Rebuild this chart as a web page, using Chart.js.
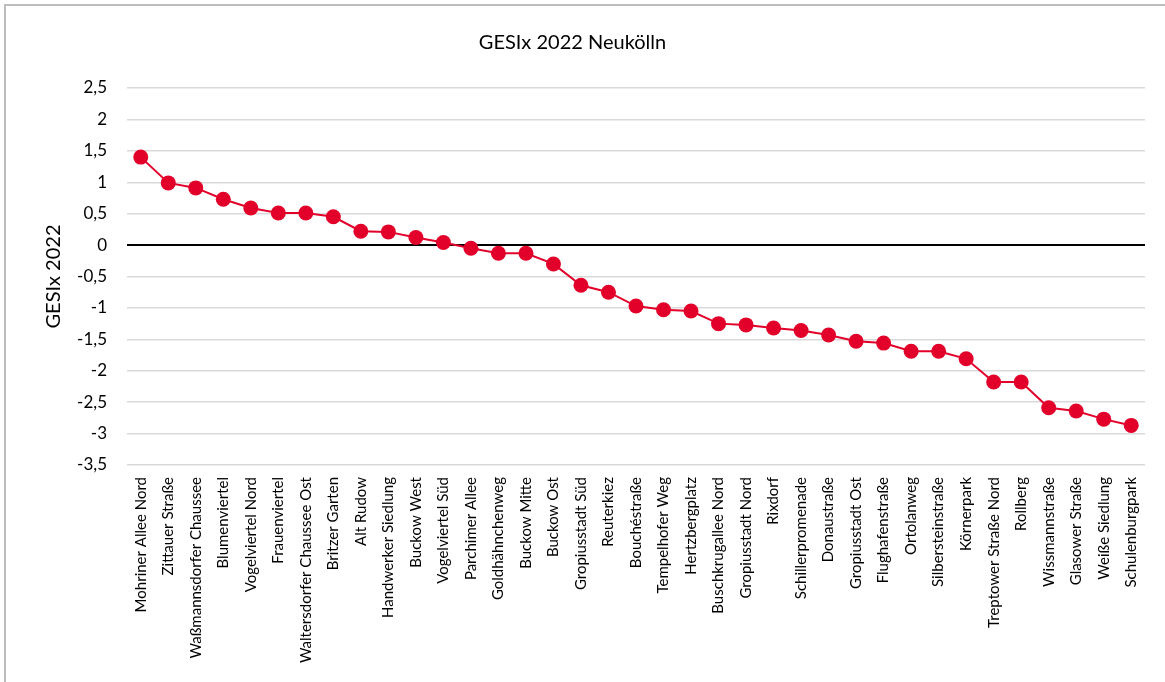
<!DOCTYPE html>
<html>
<head>
<meta charset="utf-8">
<script src="https://cdn.jsdelivr.net/npm/chart.js@4/dist/chart.umd.min.js"></script>
<style>
    html, body { margin: 0; padding: 0; background: #fff; }
    #wrap { position: relative; width: 1165px; height: 682px; overflow: hidden; }
    #frame {
        position: absolute; left: 4px; top: 4px; right: -10px; bottom: -10px;
        border-left: 2px solid #bdbdbd; border-top: 2px solid #bdbdbd;
        pointer-events: none;
    }
    canvas { position: absolute; left: 0; top: 0; }
</style>
</head>
<body>
<div id="wrap">
    <canvas id="gesixChart" width="1165" height="682"></canvas>
    <div id="frame"></div>
</div>
<script>
const districts = [
    'Mohriner Allee Nord', 'Zittauer Straße', 'Waßmannsdorfer Chaussee', 'Blumenviertel',
    'Vogelviertel Nord', 'Frauenviertel', 'Waltersdorfer Chaussee Ost', 'Britzer Garten',
    'Alt Rudow', 'Handwerker Siedlung', 'Buckow West', 'Vogelviertel Süd', 'Parchimer Allee',
    'Goldhähnchenweg', 'Buckow Mitte', 'Buckow Ost', 'Gropiusstadt Süd', 'Reuterkiez',
    'Bouchéstraße', 'Tempelhofer Weg', 'Hertzbergplatz', 'Buschkrugallee Nord',
    'Gropiusstadt Nord', 'Rixdorf', 'Schillerpromenade', 'Donaustraße', 'Gropiusstadt Ost',
    'Flughafenstraße', 'Ortolanweg', 'Silbersteinstraße', 'Körnerpark',
    'Treptower Straße Nord', 'Rollberg', 'Wissmannstraße', 'Glasower Straße',
    'Weiße Siedlung', 'Schulenburgpark'
];

const gesix2022 = [
    1.40, 0.99, 0.91, 0.73, 0.59, 0.51, 0.51, 0.45, 0.22, 0.21,
    0.12, 0.04, -0.05, -0.13, -0.13, -0.30, -0.64, -0.75, -0.97, -1.03,
    -1.05, -1.25, -1.27, -1.32, -1.36, -1.43, -1.53, -1.56, -1.69, -1.69,
    -1.81, -2.18, -2.18, -2.59, -2.64, -2.77, -2.87
];

const yMin = -3.5;
const yMax = 2.5;
const yStep = 0.5;

const RED = '#e2002a';
const FONT = 'Lato';

const ctx = document.getElementById('gesixChart').getContext('2d');

new Chart(ctx, {
    type: 'line',
    data: {
        labels: districts,
        datasets: [{
            label: 'GESIx 2022',
            data: gesix2022,
            borderColor: RED,
            backgroundColor: RED,
            borderWidth: 2,
            pointRadius: 7.5,
            pointHoverRadius: 7.5,
            pointBackgroundColor: RED,
            pointBorderWidth: 0,
            tension: 0
        }]
    },
    options: {
        responsive: false,
        animation: false,
        devicePixelRatio: 1,
        layout: { padding: { left: 0, right: 20, top: 0, bottom: 0 } },
        scales: {
            x: {
                offset: true,
                grid: { display: false },
                border: { display: false },
                ticks: {
                    color: '#000',
                    font: { family: FONT, size: 15 },
                    maxRotation: 90,
                    minRotation: 90,
                    autoSkip: false,
                    padding: 4
                },
                afterFit: scale => { scale.height = 217; }
            },
            y: {
                min: yMin,
                max: yMax,
                border: { display: false },
                grid: {
                    drawTicks: false,
                    color: c => c.tick && c.tick.value === 0 ? '#000' : '#d9d9d9',
                    lineWidth: c => c.tick && c.tick.value === 0 ? 2 : 1.5
                },
                ticks: {
                    stepSize: yStep,
                    color: '#000',
                    font: { family: FONT, size: 17 },
                    padding: 20,
                    callback: v => String(v).replace('.', ',')
                },
                title: {
                    display: true,
                    text: 'GESIx 2022',
                    color: '#000',
                    font: { family: FONT, size: 20 },
                    padding: { top: 42, bottom: 10 }
                },
                afterFit: scale => { scale.width = 127; }
            }
        },
        plugins: {
            legend: { display: false },
            tooltip: { enabled: false },
            title: {
                display: true,
                text: 'GESIx 2022 Neukölln',
                color: '#000',
                font: { family: FONT, size: 20, weight: 'normal' },
                padding: { top: 31, bottom: 33 }
            }
        }
    }
});
</script>
</body>
</html>
